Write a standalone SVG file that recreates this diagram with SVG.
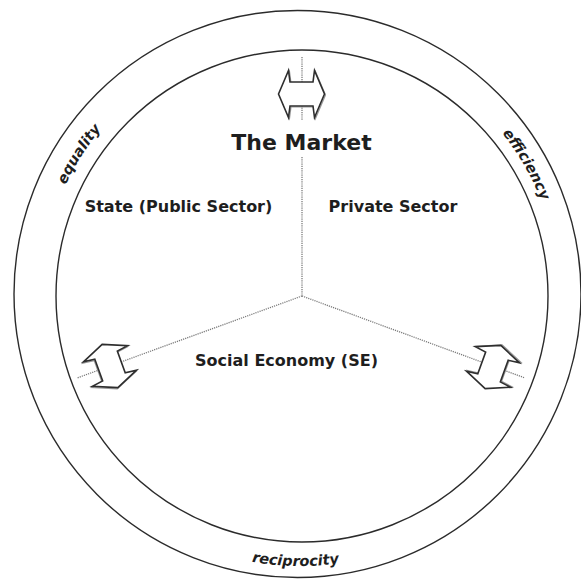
<svg xmlns="http://www.w3.org/2000/svg" xmlns:xlink="http://www.w3.org/1999/xlink" width="581" height="585" viewBox="0 0 581 585">
  <style>
    .ring { fill: none; stroke: #2b2b2b; stroke-width: 1.4; }
    .dot { fill: none; stroke: #7a7a7a; stroke-width: 1.3; stroke-dasharray: 1.2 1; }
    .lbl { font-family: "DejaVu Sans", Verdana, sans-serif; font-weight: bold; fill: #1e1e1e; text-anchor: middle; }
    .val { font-family: "DejaVu Sans", Verdana, sans-serif; font-weight: bold; font-style: italic; font-size: 14.5px; fill: #1e1e1e; }
    .arw { fill: #fff; stroke: #2e2e2e; stroke-width: 1.6; stroke-linejoin: miter; }
    .arwsh { fill: none; stroke: #9a9a9a; stroke-width: 1.2; }
  </style>
  <defs>
    <path id="dblarrow" d="M-23,0 L-13,-23.5 L-11.5,-12 L11.5,-12 L13,-23.5 L23,0 L13,23.5 L11.5,12 L-11.5,12 L-13,23.5 Z"/>
    <path id="arcEq" d="M75.7,424.5 A259,259 0 0 1 322.6,37.0"/>
    <path id="arcEff" d="M288.7,36.3 A259,259 0 0 1 518.4,434.2"/>
    <path id="arcRec" d="M65.3,430.5 A271,271 0 0 0 534.7,430.5"/>
  </defs>
  <rect width="581" height="585" fill="#fff"/>

  <g id="rings">
    <circle class="ring" cx="297.5" cy="294" r="283.5"/>
    <circle class="ring" cx="302" cy="296" r="246"/>
  </g>

  <g id="connectors">
    <line class="dot" x1="302" y1="57" x2="302" y2="120"/>
    <line class="dot" x1="302" y1="157" x2="302" y2="296"/>
    <line class="dot" x1="302" y1="296" x2="77" y2="378"/>
    <line class="dot" x1="302" y1="296" x2="525" y2="378"/>
  </g>

  <g id="arrow-top" transform="translate(301.5,94)">
    <use href="#dblarrow" class="arwsh" transform="translate(1,1)"/>
    <use href="#dblarrow" class="arw"/>
  </g>
  <g id="arrow-left" transform="translate(110,366) rotate(70)">
    <use href="#dblarrow" class="arwsh" transform="translate(1,1)"/>
    <use href="#dblarrow" class="arw"/>
  </g>
  <g id="arrow-right" transform="translate(493,367) rotate(-70)">
    <use href="#dblarrow" class="arwsh" transform="translate(1,1)"/>
    <use href="#dblarrow" class="arw"/>
  </g>

  <g id="market">
    <text class="lbl" x="301.5" y="150" font-size="22">The Market</text>
  </g>
  <g id="state">
    <text class="lbl" x="178.5" y="212" font-size="16">State (Public Sector)</text>
  </g>
  <g id="private">
    <text class="lbl" x="393" y="212" font-size="16">Private Sector</text>
  </g>
  <g id="social-economy">
    <text class="lbl" x="286.5" y="366" font-size="16">Social Economy (SE)</text>
  </g>

  <g id="equality">
    <text class="val"><textPath href="#arcEq" startOffset="50%" text-anchor="middle">equality</textPath></text>
  </g>
  <g id="efficiency">
    <text class="val"><textPath href="#arcEff" startOffset="50%" text-anchor="middle">efficiency</textPath></text>
  </g>
  <g id="reciprocity">
    <text class="val"><textPath href="#arcRec" startOffset="49.2%" text-anchor="middle">reciprocity</textPath></text>
  </g>
</svg>
